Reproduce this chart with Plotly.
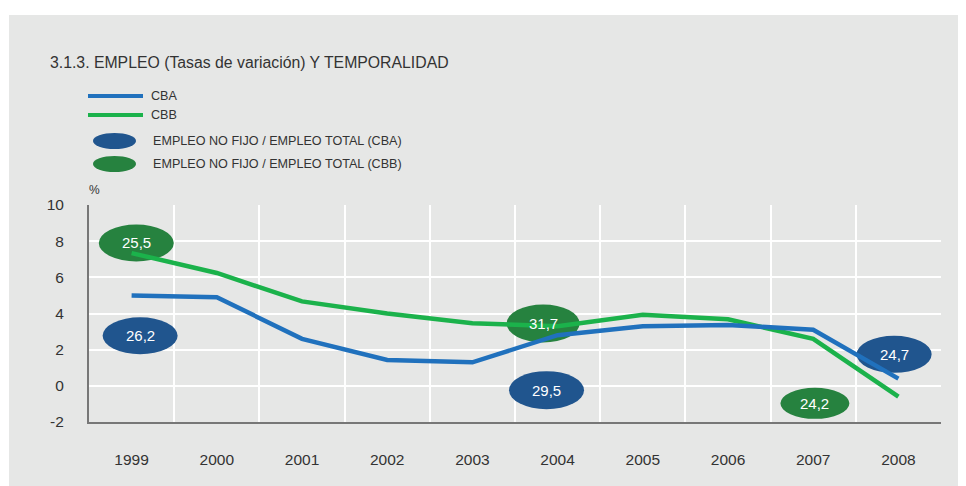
import plotly.graph_objects as go

# ---- data ----
years = ["1999", "2000", "2001", "2002", "2003", "2004", "2005", "2006", "2007", "2008"]
cba = [5.0, 4.9, 2.6, 1.43, 1.3, 2.8, 3.3, 3.37, 3.1, 0.4]
cbb = [7.34, 6.24, 4.67, 4.0, 3.46, 3.3, 3.93, 3.68, 2.6, -0.6]

# temporalidad bubbles (label, category position, y position)
cba_bubble_text = ["26,2", "29,5", "24,7"]
cba_bubble_x = [0.1, 4.87, 8.95]
cba_bubble_y = [2.77, -0.24, 1.74]
cbb_bubble_text = ["25,5", "31,7", "24,2"]
cbb_bubble_x = [0.055, 4.83, 8.02]
cbb_bubble_y = [7.9, 3.45, -0.97]

y_ticks = [-2, 0, 2, 4, 6, 8, 10]
y_ticktext = ["-2", "0", "2", "4", "6", "8", "10"]

# ---- style ----
OFF = 8  # browser body margin
W, H = 966 - OFF, 486 - OFF
L, R, T, B = 89 - OFF, 25, 205 - OFF, 64
PW, PH = W - L - R, H - T - B
BG = "#e6e7e6"
BLUE_LINE = "#2071bd"
GREEN_LINE = "#1bb24b"
BLUE_BUB = "#20558e"
GREEN_BUB = "#26823f"
TXT = "#333333"
FONT = "Liberation Sans, Arial, sans-serif"
cba_bubble_size = [(75, 37), (75, 38), (75, 37)]
cbb_bubble_size = [(75, 37), (73, 38), (69, 31)]

x_idx = list(range(len(years)))
XMIN, XMAX = -0.5, len(years) - 0.5
YMIN, YMAX = -2, 10
xpu = PW / (XMAX - XMIN)
ypu = PH / (YMAX - YMIN)


def px(xp):
    return (xp - OFF - L) / PW


def py(yp):
    return (H - B - (yp - OFF)) / PH


fig = go.Figure()
fig.add_trace(go.Scatter(x=x_idx, y=cbb, mode="lines", name="CBB",
                         line=dict(color=GREEN_LINE, width=4.5), hoverinfo="skip"))
fig.add_trace(go.Scatter(x=x_idx, y=cba, mode="lines", name="CBA",
                         line=dict(color=BLUE_LINE, width=4.5), hoverinfo="skip"))

shapes = []
annotations = []

# gray panel
shapes.append(dict(type="rect", xref="paper", yref="paper", layer="below",
                   x0=px(9), x1=px(966 + 5), y0=py(15), y1=py(486 + 5),
                   fillcolor=BG, line=dict(width=0)))

# bubbles
for texts, xs, ys, sizes, col in [(cba_bubble_text, cba_bubble_x, cba_bubble_y, cba_bubble_size, BLUE_BUB),
                                  (cbb_bubble_text, cbb_bubble_x, cbb_bubble_y, cbb_bubble_size, GREEN_BUB)]:
    for t, xv, yv, (w, h) in zip(texts, xs, ys, sizes):
        dx = w / 2 / xpu
        dy = h / 2 / ypu
        shapes.append(dict(type="circle", xref="x", yref="y", layer="between",
                           x0=xv - dx, x1=xv + dx, y0=yv - dy, y1=yv + dy,
                           fillcolor=col, line=dict(width=0)))
        annotations.append(dict(x=xv, y=yv, xref="x", yref="y", text=t, showarrow=False,
                                font=dict(color="white", size=15, family=FONT)))

# title
annotations.append(dict(x=px(48), y=py(62), xref="paper", yref="paper", xanchor="left", yanchor="middle",
                        text="3.1.3. EMPLEO (Tasas de variación) Y TEMPORALIDAD", showarrow=False,
                        font=dict(size=15.8, color=TXT, family=FONT)))

# custom legend
for label, col, yl in [("CBA", BLUE_LINE, 96), ("CBB", GREEN_LINE, 115)]:
    shapes.append(dict(type="line", xref="paper", yref="paper", x0=px(88), x1=px(143), y0=py(yl), y1=py(yl),
                       line=dict(color=col, width=4)))
    annotations.append(dict(x=px(149), y=py(yl), xref="paper", yref="paper", xanchor="left", yanchor="middle",
                            text=label, showarrow=False, font=dict(size=12.6, color=TXT, family=FONT)))
for label, col, yl in [("EMPLEO NO FIJO / EMPLEO TOTAL (CBA)", BLUE_BUB, 141),
                       ("EMPLEO NO FIJO / EMPLEO TOTAL (CBB)", GREEN_BUB, 164)]:
    shapes.append(dict(type="circle", xref="paper", yref="paper", x0=px(93), x1=px(136),
                       y0=py(yl + 8), y1=py(yl - 8), fillcolor=col, line=dict(width=0)))
    annotations.append(dict(x=px(151), y=py(yl), xref="paper", yref="paper", xanchor="left", yanchor="middle",
                            text=label, showarrow=False, font=dict(size=12.6, color=TXT, family=FONT)))

# % unit
annotations.append(dict(x=px(94), y=py(190), xref="paper", yref="paper", xanchor="center", yanchor="middle",
                        text="%", showarrow=False, font=dict(size=12, color=TXT, family=FONT)))

fig.update_layout(
    width=W, height=H,
    margin=dict(l=L, r=R, t=T, b=B),
    paper_bgcolor="white",
    plot_bgcolor=BG,
    showlegend=False,
    shapes=shapes,
    annotations=annotations,
    font=dict(family=FONT, color=TXT),
)
fig.update_xaxes(range=[XMIN, XMAX], tickvals=x_idx, ticktext=years, showgrid=False,
                 ticks="", ticklabelstandoff=22, tickfont=dict(size=15.5, color=TXT),
                 showline=True, linecolor="#777777", linewidth=2, zeroline=False,
                 minor=dict(tickvals=[i + 0.5 for i in range(-1, len(years))], showgrid=True,
                            gridcolor="white", gridwidth=1.5, ticks=""))
fig.update_yaxes(range=[YMIN, YMAX], tickvals=y_ticks, ticktext=y_ticktext, showgrid=True,
                 gridcolor="white", gridwidth=1.5,
                 ticks="", ticklabelstandoff=20, tickfont=dict(size=15.5, color=TXT),
                 showline=True, linecolor="#777777", linewidth=2, zeroline=False)

fig.write_html("out.html")
